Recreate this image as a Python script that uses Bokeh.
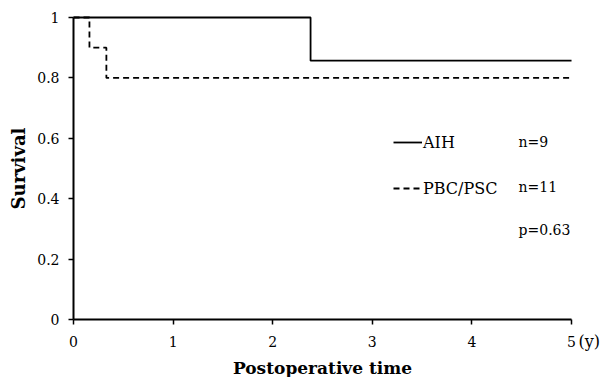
import math
from bokeh.plotting import figure
from bokeh.models import Range1d, FixedTicker, Label, Legend, LegendItem
from bokeh.embed import file_html
from bokeh.resources import INLINE

# Kaplan-Meier data
aih_time = [0.0, 2.38, 5.0]
aih_surv = [1.0, 0.857, 0.857]
pbc_time = [0.0, 0.16, 0.33, 5.0]
pbc_surv = [1.0, 0.9, 0.8, 0.8]

x_ticks = [0, 1, 2, 3, 4, 5]
x_tick_labels = ["0", "1", "2", "3", "4", "5"]
y_ticks = [0, 0.2, 0.4, 0.6, 0.8, 1.0]
y_tick_labels = ["0", "0.2", "0.4", "0.6", "0.8", "1"]

series_names = ["AIH", "PBC/PSC"]
series_n = ["n=9", "n=11"]
p_value = "p=0.63"
x_title = "Postoperative time"
x_unit = "(y)"
y_title = "Survival"

FONT = "DejaVu Serif"

p = figure(width=604, height=377, output_backend="svg", toolbar_location=None,
           x_range=Range1d(-0.733, 5.331), y_range=Range1d(-0.192, 1.0563),
           min_border_left=0, min_border_right=0, min_border_top=0, min_border_bottom=0)
p.grid.visible = False
p.outline_line_color = None
p.background_fill_color = "white"
p.border_fill_color = "white"

r_aih = p.step(aih_time, aih_surv, mode="after", line_color="black", line_width=1.8)
r_pbc = p.step(pbc_time, pbc_surv, mode="after", line_color="black", line_width=1.8,
               line_dash="6 4")

for ax in (p.xaxis[0], p.yaxis[0]):
    ax.fixed_location = 0
    ax.axis_line_width = 2
    ax.axis_line_color = "black"
    ax.major_tick_in = 0
    ax.major_tick_out = 5
    ax.major_tick_line_width = 1.5
    ax.major_tick_line_color = "black"
    ax.minor_tick_line_color = None
    ax.major_label_text_font = FONT
    ax.major_label_text_font_size = "14px"
    ax.major_label_text_color = "black"

p.xaxis.bounds = (0, 5)
p.yaxis.bounds = (0, 1)
p.xaxis.ticker = FixedTicker(ticks=x_ticks)
p.yaxis.ticker = FixedTicker(ticks=y_ticks)
p.xaxis.major_label_overrides = {t: l for t, l in zip(x_ticks, x_tick_labels)}
p.yaxis.major_label_overrides = {t: l for t, l in zip(y_ticks, y_tick_labels)}
p.xaxis.major_label_standoff = 11
p.yaxis.major_label_standoff = 9

legend = Legend(items=[LegendItem(label=series_names[0], renderers=[r_aih]),
                       LegendItem(label=series_names[1], renderers=[r_pbc])],
                location=(393, 179), glyph_width=29, glyph_height=20, spacing=26,
                padding=0, margin=0, label_standoff=1, border_line_color=None,
                background_fill_alpha=0, label_text_font=FONT,
                label_text_font_size="16px", label_text_color="black", label_height=20)
p.add_layout(legend, "center")

lab_kw = dict(text_font=FONT, text_font_size="14px", text_baseline="middle",
              text_color="black")
p.add_layout(Label(x=4.468, y=0.588, text=series_n[0], **lab_kw))
p.add_layout(Label(x=4.468, y=0.438, text=series_n[1], **lab_kw))
p.add_layout(Label(x=4.468, y=0.298, text=p_value, **lab_kw))
p.add_layout(Label(x=5, y=0, x_offset=7, y_offset=-22, text=x_unit, text_font=FONT,
                   text_font_size="16px", text_baseline="middle", text_color="black"))
p.add_layout(Label(x=2.5, y=0, y_offset=-48, text=x_title, text_font=FONT,
                   text_font_size="17px", text_font_style="bold", text_align="center",
                   text_baseline="middle", text_color="black"))
p.add_layout(Label(x=0, y=0.5, x_offset=-55, text=y_title, angle=math.pi / 2,
                   text_font=FONT, text_font_size="18px", text_font_style="bold",
                   text_align="center", text_baseline="middle", text_color="black"))

open("out.html", "w").write(file_html(p, INLINE))
